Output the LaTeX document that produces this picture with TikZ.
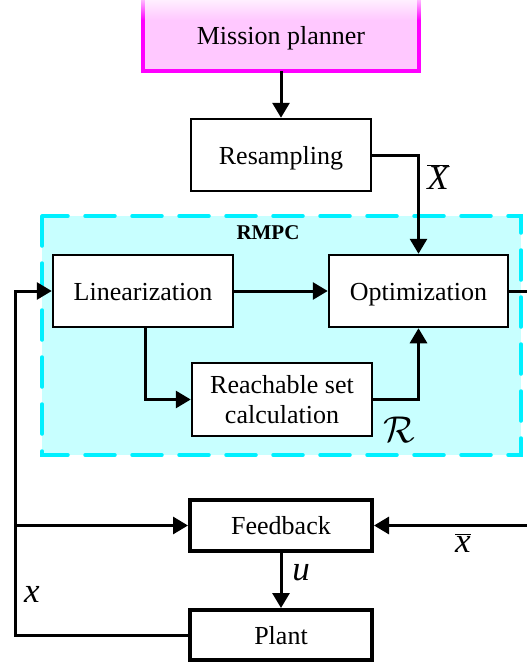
\documentclass[tikz,border=0pt]{standalone}
\usepackage{fontspec}
\setmainfont{Liberation Serif}
\usetikzlibrary{arrows.meta,fadings}
\definecolor{rmpcfill}{RGB}{200,255,255}
\definecolor{rmpcline}{RGB}{0,240,255}
\definecolor{planfill}{RGB}{255,200,255}
\definecolor{planline}{RGB}{255,0,255}
\tikzfading[name=fadetop, top color=transparent!0, bottom color=transparent!100]
\tikzset{
  block/.style={draw=black, fill=white, line width=2.5pt, inner sep=0pt,
    font=\fontsize{26}{30}\selectfont, align=center},
  oneline/.style={text height=18pt, text depth=0pt},
  thickblock/.style={block, oneline, line width=4pt},
  conn/.style={line width=3pt, draw=black},
  arr/.style={conn, -{Triangle[length=15pt,width=17pt]}},
  lbl/.style={inner sep=0pt, font=\fontsize{26}{30}\selectfont},
  siglbl/.style={inner sep=0pt, font=\fontsize{35}{38}\selectfont}
}
\begin{document}
\begin{tikzpicture}[x=1pt,y=-1pt]
\useasboundingbox (0,0) rectangle (527,662);

% mission planner block, fading out at its top
\fill[planfill] (143,-6) rectangle (419,71);
\draw[planline, line width=3.2pt] (143,-6) -- (143,71) -- (419,71) -- (419,-6);
\fill[white, path fading=fadetop] (138,-8) rectangle (424,20);
\node[lbl, oneline, minimum width=276pt, minimum height=71pt] (mission) at (281,35.5) {Mission planner};

% RMPC region
\draw[rmpcline, fill=rmpcfill, line width=3.5pt, dash pattern=on 30pt off 17pt, line cap=round]
  (42,216) rectangle (521,455);
\node[inner sep=0pt, font=\fontsize{21}{24}\selectfont\bfseries] (rmpc) at (268,233) {RMPC};

% blocks
\node[block, oneline, minimum width=180pt, minimum height=72pt] (resamp) at (281,155) {Resampling};
\node[block, oneline, minimum width=180pt, minimum height=72pt] (lin) at (143,291) {Linearization};
\node[block, oneline, minimum width=179pt, minimum height=72pt] (opt) at (418.5,291) {Optimization};
\node[block, minimum width=180pt, minimum height=73pt] (reach) at (282,399.5) {Reachable set\\calculation};
\node[thickblock, minimum width=182pt, minimum height=51pt] (fb) at (281,525.5) {Feedback};
\node[thickblock, minimum width=182pt, minimum height=50pt] (plant) at (281,635) {Plant};

% free ends and corners
\coordinate (optout) at (527,291);
\coordinate (xbarin) at (527,525.5);
\coordinate (loopbot) at (15,635);
\coordinate (looptop) at (15,291);
\coordinate (loopmid) at (15,525.5);
\coordinate (linsplit) at (145,327);

% connectors
\draw[arr] (mission.south) -- (resamp.north);
\draw[arr] (resamp.east) -| (opt.north);
\draw[arr] (lin.east) -- (opt.west);
\draw[arr] (linsplit) |- (reach.west);
\draw[arr] (reach.east) -| (opt.south);
\draw[conn] (opt.east) -- (optout);
\draw[arr, line cap=rect] (plant.west) -- (loopbot) -- (looptop) -- (lin.west);
\draw[arr] (loopmid) -- (fb.west);
\draw[arr] (xbarin) -- (fb.east);
\draw[arr] (fb.south) -- (plant.north);

% signal labels
\node[siglbl] (lXbar) at (438,177) {$\overline{\hbox{\itshape X}}$};
\node[siglbl, scale=1.5] (lR) at (399,430) {$\mathcal{R}$};
\node[siglbl] (lxbar) at (463,543) {$\overline{\hbox{\itshape x}}$};
\node[siglbl] (lx) at (32,594) {\itshape x};
\node[siglbl] (lu) at (301,573) {\itshape u};
\end{tikzpicture}
\end{document}
